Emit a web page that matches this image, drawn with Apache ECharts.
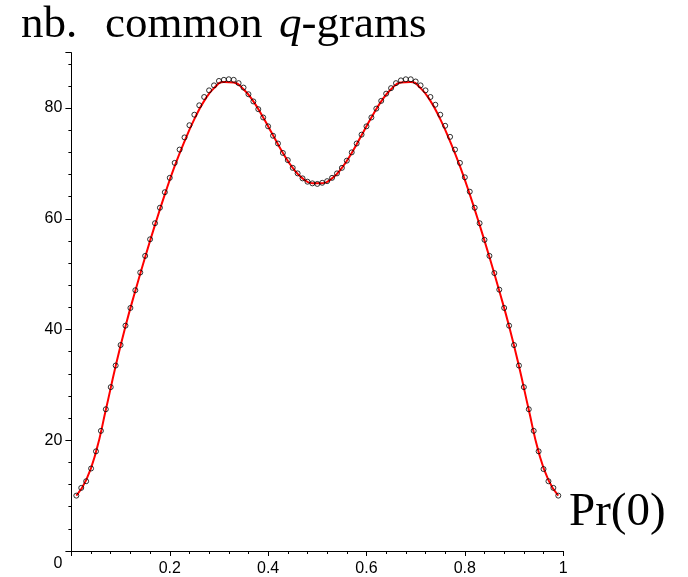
<!DOCTYPE html>
<html>
<head>
<meta charset="utf-8">
<script src="https://cdn.jsdelivr.net/npm/echarts@6/dist/echarts.min.js"></script>
<style>
html,body{margin:0;padding:0;background:#fff;}
#chart{width:688px;height:577px;}
</style>
</head>
<body>
<div id="chart"></div>
<script>
const titleWords = ['nb.', 'common', 'q', '-grams'];
const xAxisName = 'Pr(0)';

const pointX = [0.01,0.02,0.03,0.04,0.05,0.06,0.07,0.08,0.09,0.10,
  0.11,0.12,0.13,0.14,0.15,0.16,0.17,0.18,0.19,0.20,
  0.21,0.22,0.23,0.24,0.25,0.26,0.27,0.28,0.29,0.30,
  0.31,0.32,0.33,0.34,0.35,0.36,0.37,0.38,0.39,0.40,
  0.41,0.42,0.43,0.44,0.45,0.46,0.47,0.48,0.49,0.50,
  0.51,0.52,0.53,0.54,0.55,0.56,0.57,0.58,0.59,0.60,
  0.61,0.62,0.63,0.64,0.65,0.66,0.67,0.68,0.69,0.70,
  0.71,0.72,0.73,0.74,0.75,0.76,0.77,0.78,0.79,0.80,
  0.81,0.82,0.83,0.84,0.85,0.86,0.87,0.88,0.89,0.90,
  0.91,0.92,0.93,0.94,0.95,0.96,0.97,0.98,0.99];

const pointY = [10.0,11.4,12.6,14.9,18.0,21.7,25.6,29.6,33.5,37.2,
  40.7,43.9,47.1,50.3,53.3,56.3,59.2,62.0,64.8,67.4,
  70.1,72.5,74.7,76.9,78.8,80.5,82.0,83.2,84.1,84.9,
  85.1,85.2,85.1,84.5,83.7,82.5,81.2,79.8,78.3,76.7,
  75.0,73.6,71.9,70.6,69.2,68.2,67.3,66.7,66.4,66.3,
  66.5,66.8,67.4,68.2,69.2,70.5,72.0,73.6,75.2,76.7,
  78.3,79.9,81.3,82.6,83.6,84.5,85.0,85.2,85.2,84.8,
  84.1,83.2,82.0,80.6,78.8,76.8,74.8,72.5,70.1,67.5,
  64.9,62.0,59.2,56.2,53.3,50.2,47.2,43.9,40.7,37.2,
  33.5,29.6,25.6,21.7,18.0,14.8,12.6,11.4,10.0];

const curveX = [0.01,0.03,0.05,0.07,0.09,0.11,0.13,0.15,0.17,0.19,
  0.21,0.23,0.25,0.27,0.29,0.31,0.33,0.35,0.37,0.39,
  0.41,0.43,0.45,0.47,0.49,0.51,0.53,0.55,0.57,0.59,
  0.61,0.63,0.65,0.67,0.69,0.71,0.73,0.75,0.77,0.79,
  0.81,0.83,0.85,0.87,0.89,0.91,0.93,0.95,0.97,0.99];

const curveY = [10.0,12.8,17.9,25.5,33.4,40.6,47.0,53.1,58.9,64.4,
  69.5,74.0,78.0,81.3,83.6,84.7,84.6,83.4,81.2,78.3,
  75.1,71.9,69.2,67.3,66.4,66.4,67.3,69.2,71.9,75.1,
  78.3,81.2,83.4,84.6,84.7,83.6,81.3,78.0,74.0,69.5,
  64.4,58.9,53.1,47.0,40.6,33.4,25.5,17.9,12.8,10.0];

const yTickLabels = ['0','20','40','60','80'];

const chart = echarts.init(document.getElementById('chart'), null, {renderer:'canvas'});

const pointData = pointX.map((x, i) => [x, pointY[i]]);
const curveData = curveX.map((x, i) => [x, curveY[i]]);

const labelFont = 'Liberation Sans, Arial, sans-serif';
const serif = 'Liberation Serif, Times New Roman, serif';

const option = {
  animation: false,
  backgroundColor: '#fff',
  grid: {left: 71.4, right: 124.8, top: 52.7, bottom: 23, containLabel: false},
  xAxis: {
    type: 'value', min: 0, max: 1, interval: 0.2,
    axisLine: {show: true, onZero: false, lineStyle: {color: '#000', width: 1}},
    axisTick: {show: true, length: 5, lineStyle: {color: '#000', width: 1}},
    minorTick: {show: true, splitNumber: 5, length: 3, lineStyle: {color: '#000', width: 1}},
    splitLine: {show: false},
    axisLabel: {
      color: '#000', fontSize: 16, fontFamily: labelFont, margin: 10,
      formatter: v => (v === 0 ? '' : String(+v.toFixed(2)))
    }
  },
  yAxis: {
    type: 'value', min: 0, max: 90, interval: 20,
    axisLine: {show: true, onZero: false, lineStyle: {color: '#000', width: 1}},
    axisTick: {show: true, length: 6, lineStyle: {color: '#000', width: 1}},
    minorTick: {show: true, splitNumber: 5, length: 3, lineStyle: {color: '#000', width: 1}},
    splitLine: {show: false},
    axisLabel: {
      color: '#000', fontSize: 16, fontFamily: labelFont, margin: 9,
      formatter: v => {
        const s = String(v);
        if (v === 0) return '{z|' + yTickLabels[0] + '}';
        return yTickLabels.indexOf(s) >= 0 ? s : '';
      },
      rich: {z: {color: '#000', fontSize: 16, fontFamily: labelFont, padding: [26, 0, 0, 0]}}
    }
  },
  series: [
    {
      type: 'line', data: curveData, smooth: true, symbol: 'none',
      lineStyle: {color: '#ff0000', width: 2}, z: 2, silent: true
    },
    {
      type: 'scatter', data: pointData, symbol: 'circle', symbolSize: 5,
      itemStyle: {color: 'rgba(0,0,0,0)', borderColor: '#000', borderWidth: 1},
      z: 3, silent: true
    }
  ],
  graphic: [
    {
      type: 'text', x: 21, y: 25,
      style: {text: titleWords[0], font: '45px ' + serif, fill: '#000', verticalAlign: 'middle', align: 'left'}
    },
    {
      type: 'text', x: 105, y: 25,
      style: {text: titleWords[1], font: '45px ' + serif, fill: '#000', verticalAlign: 'middle', align: 'left'}
    },
    {
      type: 'text', x: 279, y: 25,
      style: {
        text: '{i|' + titleWords[2] + '}{r|' + titleWords[3] + '}',
        rich: {
          r: {fontFamily: serif, fontSize: 45, fill: '#000'},
          i: {fontFamily: serif, fontSize: 45, fontStyle: 'italic', fill: '#000'}
        },
        fill: '#000', verticalAlign: 'middle', align: 'left'
      }
    },
    {
      type: 'text', x: 569, y: 513,
      style: {
        text: xAxisName, font: '47px ' + serif, fill: '#000',
        verticalAlign: 'middle', align: 'left'
      }
    }
  ]
};
chart.setOption(option);
</script>
</body>
</html>
